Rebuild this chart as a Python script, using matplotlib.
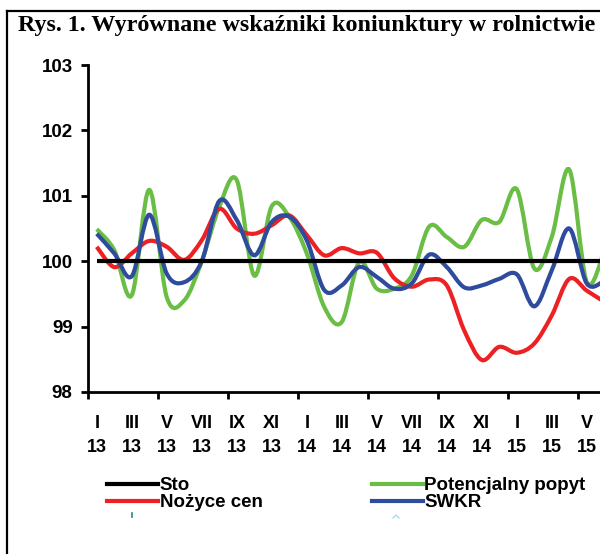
import matplotlib
matplotlib.use("Agg")
import matplotlib.pyplot as plt
import numpy as np
from matplotlib.path import Path
from matplotlib.patches import PathPatch
from matplotlib.lines import Line2D

########################################################################
# Data: monthly smoothed indicators, I/2013 onwards.
months = ["I", "II", "III", "IV", "V", "VI", "VII", "VIII", "IX", "X", "XI", "XII"]
years = ["13", "14", "15"]

sto = [100.0] * 30

potencjalny_popyt = [100.49, 100.17, 99.48, 101.09, 99.45, 99.4, 100.0, 100.83,
                     101.24, 99.78, 100.84, 100.68, 100.12, 99.3, 99.07, 99.99,
                     99.58, 99.58, 99.78, 100.53, 100.37, 100.22, 100.63, 100.6,
                     101.1, 99.89, 100.37, 101.4, 99.68, 100.15]

nozyce_cen = [100.22, 99.91, 100.12, 100.31, 100.22, 100.02, 100.32, 100.8,
              100.5, 100.42, 100.55, 100.7, 100.4, 100.09, 100.2, 100.12,
              100.13, 99.74, 99.61, 99.72, 99.63, 98.94, 98.49, 98.69,
              98.6, 98.74, 99.17, 99.73, 99.55, 99.38]

swkr = [100.42, 100.12, 99.77, 100.71, 99.81, 99.68, 100.0, 100.92,
        100.63, 100.09, 100.6, 100.68, 100.32, 99.56, 99.63, 99.91,
        99.76, 99.58, 99.66, 100.1, 99.91, 99.6, 99.63, 99.73,
        99.8, 99.31, 99.86, 100.5, 99.66, 99.7]

########################################################################
# Smoothed line like the spreadsheet one (Catmull-Rom as Bezier).
def smooth_path(y):
    y = np.asarray(y, dtype=float)
    x = np.arange(len(y), dtype=float)
    verts = [(x[0], y[0])]
    codes = [Path.MOVETO]
    n = len(y)
    for i in range(n - 1):
        x0, y0 = (x[i - 1], y[i - 1]) if i > 0 else (x[i], y[i])
        x3, y3 = (x[i + 2], y[i + 2]) if i + 2 < n else (x[i + 1], y[i + 1])
        c1 = (x[i] + (x[i + 1] - x0) / 6, y[i] + (y[i + 1] - y0) / 6)
        c2 = (x[i + 1] - (x3 - x[i]) / 6, y[i + 1] - (y3 - y[i]) / 6)
        verts += [c1, c2, (x[i + 1], y[i + 1])]
        codes += [Path.CURVE4] * 3
    return Path(verts, codes)

W, H = 600, 554
fig = plt.figure(figsize=(W / 100, H / 100), dpi=100)

left, right = 88, 613
bottom, top = 392, 65
ax = fig.add_axes([left / W, 1 - bottom / H, (right - left) / W, (bottom - top) / H])

series = [("Sto", sto, "black"),
          ("Potencjalny popyt", potencjalny_popyt, "#6abd45"),
          ("Nożyce cen", nozyce_cen, "#ed2024"),
          ("SWKR", swkr, "#2e4b9d")]

handles = {}
for name, vals, col in series:
    if name == "Sto":
        ax.plot(range(len(vals)), vals, color=col, lw=3.0, solid_capstyle="butt")
    else:
        ax.add_patch(PathPatch(smooth_path(vals), fill=False, edgecolor=col,
                               lw=3.0, capstyle="butt"))
    handles[name] = Line2D([], [], color=col, lw=3.0)

ax.set_xlim(-0.5, 29.5)
ax.set_ylim(98, 103)
ax.set_yticks([98, 99, 100, 101, 102, 103])
ax.set_xticks(np.arange(-0.5, 30, 4))
ax.set_xticklabels([])
cats = np.arange(0, 30, 2)
ax.set_xticks(cats, minor=True)
ax.set_xticklabels([months[c % 12] + "\n" + years[c // 12] for c in cats],
                   minor=True, linespacing=1.52)

for s in ["top", "right"]:
    ax.spines[s].set_visible(False)
for s in ["left", "bottom"]:
    ax.spines[s].set_linewidth(2.0)

ax.tick_params(axis="y", which="major", direction="out", length=5, width=2,
               pad=6, labelsize=13.5)
ax.tick_params(axis="x", which="major", direction="out", length=5, width=2)
ax.tick_params(axis="x", which="minor", length=0, pad=16.5, labelsize=13)
for lab in ax.get_yticklabels() + ax.get_xticklabels(minor=True):
    lab.set_fontfamily("Liberation Sans")
    lab.set_fontweight("bold")

# Title and the frame around the figure.
fig.text(18 / W, 1 - 26 / H, "Rys. 1. Wyrównane wskaźniki koniunktury w rolnictwie",
         family="Liberation Serif", weight="bold", fontsize=17.4, va="center", ha="left")
fig.add_artist(Line2D([7 / W, 7 / W], [0, 1 - 11 / H], color="black", lw=1.6,
                      transform=fig.transFigure))
fig.add_artist(Line2D([7 / W, 1], [1 - 11 / H, 1 - 11 / H], color="black", lw=1.6,
                      transform=fig.transFigure))

order = ["Sto", "Nożyce cen", "Potencjalny popyt", "SWKR"]
fig.legend([handles[k] for k in order], order, ncol=2, loc="upper left",
           bbox_to_anchor=(107 / W, 1 - 477 / H), frameon=False,
           prop={"family": "Liberation Sans", "weight": "bold", "size": 13.5},
           handlelength=2.72, handletextpad=0.1, columnspacing=5.8,
           labelspacing=0.0, borderpad=0, borderaxespad=0)

# small stray marks seen under the legend
fig.add_artist(Line2D([132 / W, 132 / W], [1 - 513 / H, 1 - 517 / H], color="#1a8a8a",
                      lw=1.2, transform=fig.transFigure))
fig.add_artist(Line2D([393 / W, 396 / W, 399 / W], [1 - 518 / H, 1 - 515 / H, 1 - 518 / H],
                      color="#aadcee", lw=1.0, transform=fig.transFigure))

fig.savefig("out.png", dpi=100)
